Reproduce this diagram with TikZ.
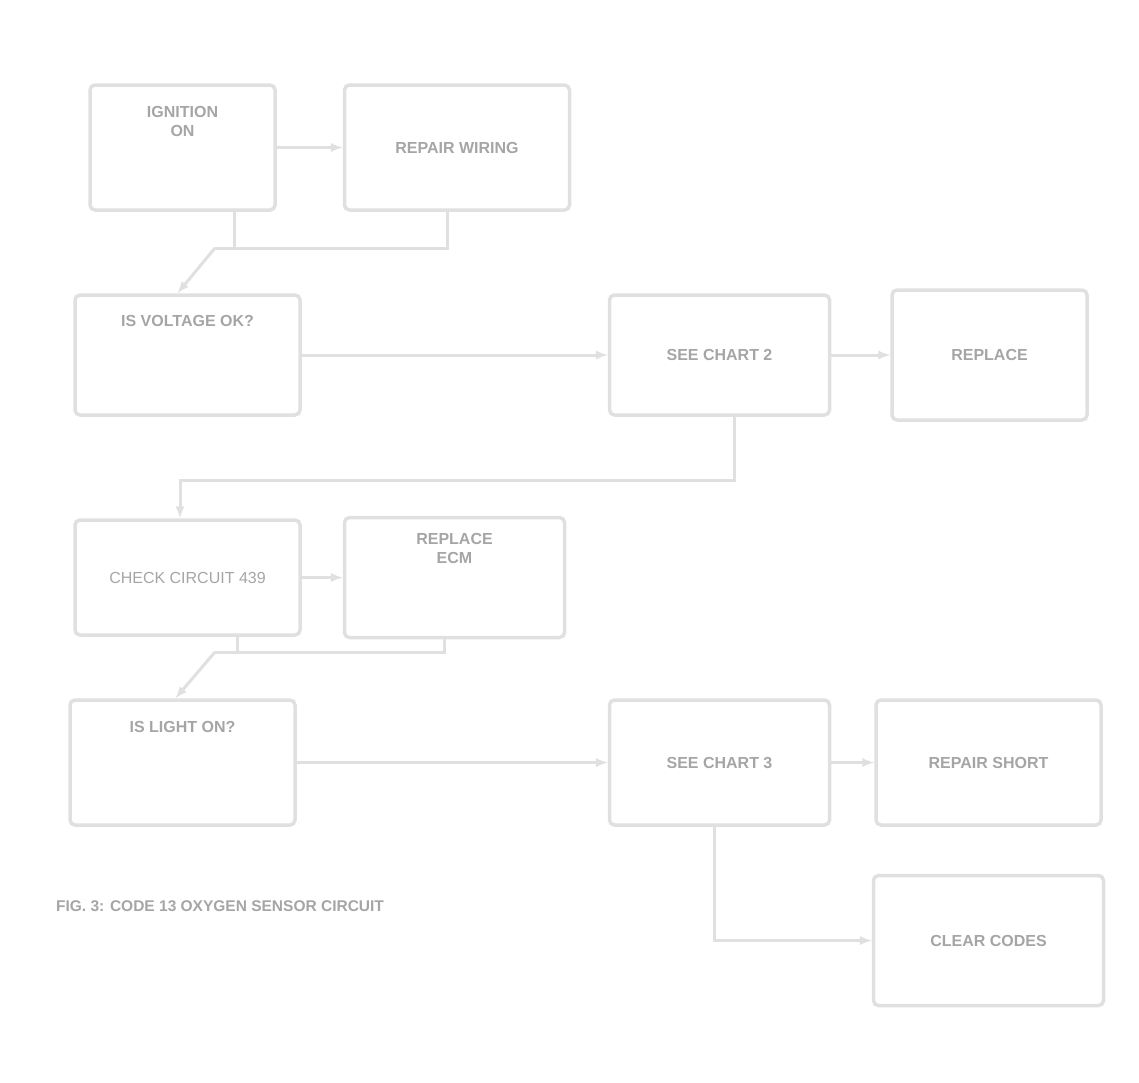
\documentclass[tikz,border=0pt]{standalone}
\usepackage{fontspec}
\setmainfont{Liberation Sans}
\usetikzlibrary{arrows,positioning}
\definecolor{frame}{RGB}{224, 224, 224}
\definecolor{ink}{RGB}{165, 165, 165}

\begin{document}
\begin{tikzpicture}[x=1pt, y=-1pt,
        stepbox/.style={draw=frame, line width=3.5pt, rounded corners=5pt,
            align=center, text=ink, minimum height=120pt,
            font=\fontsize{16}{19}\selectfont\bfseries},
        upper/.style={text depth=#1},
        wire/.style={draw=frame, line width=3pt}
    ]
    \useasboundingbox (0,0) rectangle (1139,1082);

    % first row
    \node (a) [stepbox, minimum width=185pt, minimum height=125pt, upper=52pt] at (182.5,147.5)
        {IGNITION\\ON};
    \node (b) [stepbox, minimum width=225pt, minimum height=125pt, right=66pt of a]
        {REPAIR WIRING};

    % second row
    \node (c) [stepbox, minimum width=225pt, upper=68pt] at (187.5,355)
        {IS VOLTAGE OK?};
    \node (d) [stepbox, minimum width=220pt, right=306pt of c]
        {SEE CHART 2};
    \node (e) [stepbox, minimum width=195pt, minimum height=130pt, right=59pt of d]
        {REPLACE};

    % third row
    \node (f) [stepbox, minimum width=225pt, minimum height=115pt,
            font=\fontsize{16}{19}\selectfont] at (187.5,577.5)
        {CHECK CIRCUIT 439};
    \node (g) [stepbox, minimum width=220pt, upper=58pt, right=41pt of f]
        {REPLACE\\ECM};

    % fourth row
    \node (h) [stepbox, minimum width=225pt, minimum height=125pt, upper=72pt] at (182.5,762.5)
        {IS LIGHT ON?};
    \node (i) [stepbox, minimum width=220pt, minimum height=125pt, right=311pt of h]
        {SEE CHART 3};
    \node (j) [stepbox, minimum width=225pt, minimum height=125pt, right=43pt of i]
        {REPAIR SHORT};
    \node (k) [stepbox, minimum width=230pt, minimum height=130pt, below=47pt of j]
        {CLEAR CODES};

    \node (cap) [text=ink, font=\fontsize{15.5}{18}\selectfont\bfseries] at (220,906)
        {FIG. 3: CODE 13 OXYGEN SENSOR CIRCUIT};

    \coordinate (ab) at (215,248);
    \coordinate (df) at (180,480);
    \coordinate (fg) at (215,652);

    \draw[wire, -latex] (a.east) -- (a.east -| b.west);
    \draw[wire] ([xshift=52pt]a.south) |- (ab);
    \draw[wire] ([xshift=-10pt]b.south) |- (ab);
    \draw[wire, -latex] (ab) -- ([xshift=-10pt]c.north);

    \draw[wire, -latex] (c.east) -- (c.east -| d.west);
    \draw[wire, -latex] (d.east) -- (d.east -| e.west);
    \draw[wire, -latex] ([xshift=15pt]d.south) |- (df) -- (f.north -| df);

    \draw[wire, -latex] (f.east) -- (f.east -| g.west);
    \draw[wire] ([xshift=50pt]f.south) |- (fg);
    \draw[wire] ([xshift=-10pt]g.south) |- (fg);
    \draw[wire, -latex] (fg) -- ([xshift=-7pt]h.north);

    \draw[wire, -latex] (h.east) -- (h.east -| i.west);
    \draw[wire, -latex] (i.east) -- (i.east -| j.west);
    \draw[wire, -latex] ([xshift=-5pt]i.south) |- (k.west);
\end{tikzpicture}
\end{document}
